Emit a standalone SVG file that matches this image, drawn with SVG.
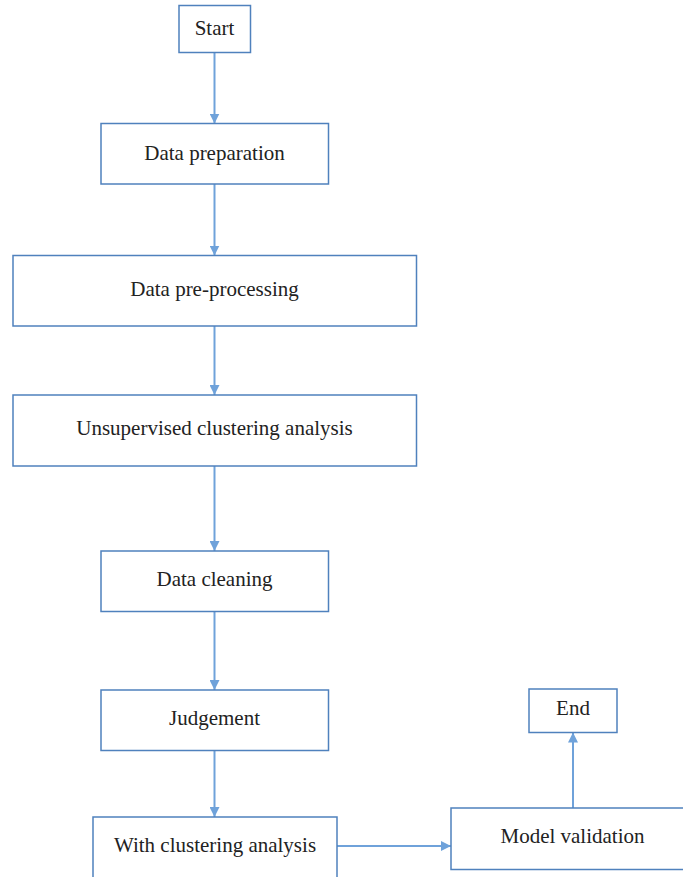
<svg xmlns="http://www.w3.org/2000/svg" width="683" height="877" viewBox="0 0 683 877">
<defs>
<style>
.box{fill:#ffffff;stroke:#4F81BD;stroke-width:1.5}
.lbl{font-family:"Liberation Serif","Times New Roman",serif;font-size:21px;fill:#222222;text-anchor:middle}
.conn{stroke:#6FA2DA;stroke-width:2;fill:none}
</style>
<marker id="arr" viewBox="0 0 10 10" refX="10" refY="5" markerWidth="5" markerHeight="5" markerUnits="strokeWidth" orient="auto">
<path d="M0,0 L10,5 L0,10 Z" fill="#6FA2DA"/>
</marker>
</defs>
<rect width="683" height="877" fill="#ffffff"/>
<g id="connectors">
<line class="conn" x1="214.5" y1="52" x2="214.5" y2="123.5" marker-end="url(#arr)"/>
<line class="conn" x1="214.5" y1="184" x2="214.5" y2="255.5" marker-end="url(#arr)"/>
<line class="conn" x1="214.5" y1="326" x2="214.5" y2="395" marker-end="url(#arr)"/>
<line class="conn" x1="214.5" y1="466" x2="214.5" y2="551" marker-end="url(#arr)"/>
<line class="conn" x1="214.5" y1="611.5" x2="214.5" y2="690" marker-end="url(#arr)"/>
<line class="conn" x1="214.5" y1="750.5" x2="214.5" y2="817" marker-end="url(#arr)"/>
<line class="conn" x1="337" y1="846" x2="451" y2="846" marker-end="url(#arr)"/>
<line class="conn" x1="573" y1="808" x2="573" y2="732.5" marker-end="url(#arr)"/>
</g>
<g id="start">
<rect class="box" x="179" y="5.5" width="71.5" height="47"/>
<text class="lbl" x="214.5" y="34.5">Start</text>
</g>
<g id="data-preparation">
<rect class="box" x="101" y="123.5" width="227.5" height="60.5"/>
<text class="lbl" x="214.5" y="159.5">Data preparation</text>
</g>
<g id="data-pre-processing">
<rect class="box" x="13" y="255.5" width="403.5" height="70.5"/>
<text class="lbl" x="214.5" y="296">Data pre-processing</text>
</g>
<g id="unsupervised-clustering">
<rect class="box" x="13" y="395" width="403.5" height="71"/>
<text class="lbl" x="214.5" y="435">Unsupervised clustering analysis</text>
</g>
<g id="data-cleaning">
<rect class="box" x="101" y="551" width="227.5" height="60.5"/>
<text class="lbl" x="214.5" y="586">Data cleaning</text>
</g>
<g id="judgement">
<rect class="box" x="101" y="690" width="227.5" height="60.5"/>
<text class="lbl" x="214.5" y="725">Judgement</text>
</g>
<g id="with-clustering">
<rect class="box" x="93" y="817" width="244" height="70"/>
<text class="lbl" x="215" y="852">With clustering analysis</text>
</g>
<g id="model-validation">
<rect class="box" x="451" y="808" width="240" height="61.5"/>
<text class="lbl" x="572.5" y="843">Model validation</text>
</g>
<g id="end">
<rect class="box" x="529" y="689" width="88" height="43.5"/>
<text class="lbl" x="573" y="715">End</text>
</g>
</svg>
